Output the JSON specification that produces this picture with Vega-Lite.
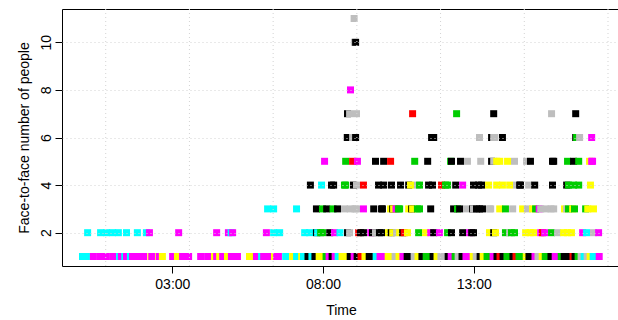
{
 "$schema": "https://vega.github.io/schema/vega-lite/v6.json",
 "width": 558,
 "height": 257,
 "autosize": {"type": "none"},
 "padding": {"left": 62, "top": 9, "right": -2, "bottom": 54},
 "background": "white",
 "config": {
  "font": "Liberation Sans",
  "view": {"stroke": "black", "strokeWidth": 1},
  "axis": {"labelFont": "Liberation Sans", "titleFont": "Liberation Sans", "labelFontSize": 14, "titleFontSize": 14, "titleFontWeight": "normal", "labelColor": "black", "titleColor": "black", "tickColor": "black", "domain": false}
 },
 "datasets": {
  "pts": [
   {"t":0.02,"n":1,"g":"A"},{"t":0.15,"n":1,"g":"A"},{"t":0.38,"n":1,"g":"B"},{"t":0.60,"n":1,"g":"B"},{"t":0.80,"n":1,"g":"B"},{"t":1.02,"n":1,"g":"B"},{"t":1.25,"n":1,"g":"A"},{"t":1.31,"n":1,"g":"B"},{"t":1.42,"n":1,"g":"A"},{"t":1.48,"n":1,"g":"B"},{"t":1.61,"n":1,"g":"A"},{"t":1.68,"n":1,"g":"B"},{"t":1.88,"n":1,"g":"B"},{"t":2.05,"n":1,"g":"B"},{"t":2.29,"n":1,"g":"C"},{"t":2.32,"n":1,"g":"B"},{"t":2.55,"n":1,"g":"C"},{"t":2.57,"n":1,"g":"B"},{"t":2.67,"n":1,"g":"C"},{"t":3.01,"n":1,"g":"B"},{"t":3.17,"n":1,"g":"C"},{"t":3.34,"n":1,"g":"B"},{"t":3.54,"n":1,"g":"B"},{"t":3.94,"n":1,"g":"B"},{"t":4.17,"n":1,"g":"B"},{"t":4.40,"n":1,"g":"C"},{"t":4.47,"n":1,"g":"B"},{"t":4.57,"n":1,"g":"C"},{"t":4.67,"n":1,"g":"B"},{"t":4.83,"n":1,"g":"C"},{"t":4.96,"n":1,"g":"B"},{"t":5.16,"n":1,"g":"B"},{"t":5.56,"n":1,"g":"C"},{"t":5.79,"n":1,"g":"B"},{"t":5.96,"n":1,"g":"A"},{"t":6.03,"n":1,"g":"B"},{"t":6.16,"n":1,"g":"B"},{"t":6.39,"n":1,"g":"C"},{"t":6.46,"n":1,"g":"B"},{"t":6.52,"n":1,"g":"B"},{"t":6.76,"n":1,"g":"A"},{"t":6.99,"n":1,"g":"C"},{"t":7.12,"n":1,"g":"A"},{"t":7.29,"n":1,"g":"C"},{"t":7.35,"n":1,"g":"A"},{"t":7.50,"n":1,"g":"D"},{"t":7.63,"n":1,"g":"A"},{"t":7.73,"n":1,"g":"D"},{"t":7.87,"n":1,"g":"C"},{"t":8.00,"n":1,"g":"C"},{"t":8.10,"n":1,"g":"E"},{"t":8.20,"n":1,"g":"B"},{"t":8.30,"n":1,"g":"D"},{"t":8.40,"n":1,"g":"B"},{"t":8.50,"n":1,"g":"A"},{"t":8.63,"n":1,"g":"C"},{"t":8.76,"n":1,"g":"C"},{"t":8.90,"n":1,"g":"D"},{"t":9.03,"n":1,"g":"B"},{"t":9.13,"n":1,"g":"D"},{"t":9.26,"n":1,"g":"F"},{"t":9.39,"n":1,"g":"C"},{"t":9.53,"n":1,"g":"D"},{"t":9.63,"n":1,"g":"D"},{"t":9.76,"n":1,"g":"A"},{"t":9.89,"n":1,"g":"B"},{"t":10.02,"n":1,"g":"B"},{"t":10.16,"n":1,"g":"C"},{"t":10.26,"n":1,"g":"C"},{"t":10.39,"n":1,"g":"G"},{"t":10.52,"n":1,"g":"C"},{"t":10.65,"n":1,"g":"B"},{"t":10.79,"n":1,"g":"D"},{"t":10.92,"n":1,"g":"D"},{"t":11.02,"n":1,"g":"G"},{"t":11.15,"n":1,"g":"C"},{"t":11.28,"n":1,"g":"D"},{"t":11.42,"n":1,"g":"E"},{"t":11.52,"n":1,"g":"E"},{"t":11.65,"n":1,"g":"D"},{"t":11.78,"n":1,"g":"C"},{"t":11.91,"n":1,"g":"G"},{"t":12.01,"n":1,"g":"G"},{"t":12.15,"n":1,"g":"D"},{"t":12.25,"n":1,"g":"B"},{"t":12.38,"n":1,"g":"E"},{"t":12.48,"n":1,"g":"G"},{"t":12.61,"n":1,"g":"D"},{"t":12.74,"n":1,"g":"B"},{"t":12.84,"n":1,"g":"B"},{"t":12.98,"n":1,"g":"C"},{"t":13.08,"n":1,"g":"G"},{"t":13.21,"n":1,"g":"D"},{"t":13.31,"n":1,"g":"C"},{"t":13.44,"n":1,"g":"E"},{"t":13.54,"n":1,"g":"E"},{"t":13.64,"n":1,"g":"B"},{"t":13.77,"n":1,"g":"D"},{"t":13.87,"n":1,"g":"F"},{"t":13.97,"n":1,"g":"D"},{"t":14.10,"n":1,"g":"E"},{"t":14.20,"n":1,"g":"E"},{"t":14.30,"n":1,"g":"D"},{"t":14.40,"n":1,"g":"F"},{"t":14.50,"n":1,"g":"E"},{"t":14.60,"n":1,"g":"E"},{"t":14.74,"n":1,"g":"C"},{"t":14.83,"n":1,"g":"D"},{"t":14.93,"n":1,"g":"D"},{"t":15.03,"n":1,"g":"B"},{"t":15.13,"n":1,"g":"G"},{"t":15.27,"n":1,"g":"C"},{"t":15.37,"n":1,"g":"E"},{"t":15.47,"n":1,"g":"E"},{"t":15.56,"n":1,"g":"D"},{"t":15.70,"n":1,"g":"B"},{"t":15.80,"n":1,"g":"B"},{"t":15.90,"n":1,"g":"E"},{"t":16.00,"n":1,"g":"D"},{"t":16.10,"n":1,"g":"D"},{"t":16.20,"n":1,"g":"D"},{"t":16.29,"n":1,"g":"F"},{"t":16.36,"n":1,"g":"D"},{"t":16.46,"n":1,"g":"E"},{"t":16.56,"n":1,"g":"G"},{"t":16.66,"n":1,"g":"A"},{"t":16.76,"n":1,"g":"G"},{"t":16.86,"n":1,"g":"C"},{"t":16.96,"n":1,"g":"A"},{"t":17.06,"n":1,"g":"A"},{"t":17.16,"n":1,"g":"B"},
   {"t":0.19,"n":2,"g":"A"},{"t":0.62,"n":2,"g":"A"},{"t":0.82,"n":2,"g":"A"},{"t":1.02,"n":2,"g":"A"},{"t":1.21,"n":2,"g":"A"},{"t":1.48,"n":2,"g":"A"},{"t":1.84,"n":2,"g":"A"},{"t":2.14,"n":2,"g":"A"},{"t":2.24,"n":2,"g":"B"},{"t":3.21,"n":2,"g":"B"},{"t":4.47,"n":2,"g":"B"},{"t":4.86,"n":2,"g":"B"},{"t":4.95,"n":2,"g":"A"},{"t":5.00,"n":2,"g":"B"},{"t":6.12,"n":2,"g":"B"},{"t":6.36,"n":2,"g":"A"},{"t":6.56,"n":2,"g":"A"},{"t":7.39,"n":2,"g":"A"},{"t":7.55,"n":2,"g":"A"},{"t":7.78,"n":2,"g":"D"},{"t":7.82,"n":2,"g":"A"},{"t":7.92,"n":2,"g":"E"},{"t":7.98,"n":2,"g":"E"},{"t":8.22,"n":2,"g":"D"},{"t":8.38,"n":2,"g":"B"},{"t":8.56,"n":2,"g":"A"},{"t":8.81,"n":2,"g":"D"},{"t":8.88,"n":2,"g":"G"},{"t":9.18,"n":2,"g":"F"},{"t":9.24,"n":2,"g":"D"},{"t":9.34,"n":2,"g":"D"},{"t":9.58,"n":2,"g":"B"},{"t":9.64,"n":2,"g":"D"},{"t":9.74,"n":2,"g":"G"},{"t":9.87,"n":2,"g":"D"},{"t":9.94,"n":2,"g":"D"},{"t":10.17,"n":2,"g":"C"},{"t":10.26,"n":2,"g":"D"},{"t":10.31,"n":2,"g":"C"},{"t":10.44,"n":2,"g":"G"},{"t":10.54,"n":2,"g":"C"},{"t":10.64,"n":2,"g":"D"},{"t":10.69,"n":2,"g":"F"},{"t":10.80,"n":2,"g":"C"},{"t":11.17,"n":2,"g":"E"},{"t":11.40,"n":2,"g":"C"},{"t":11.57,"n":2,"g":"B"},{"t":11.67,"n":2,"g":"D"},{"t":11.86,"n":2,"g":"B"},{"t":12.13,"n":2,"g":"E"},{"t":12.26,"n":2,"g":"D"},{"t":12.63,"n":2,"g":"D"},{"t":12.86,"n":2,"g":"B"},{"t":12.93,"n":2,"g":"D"},{"t":12.99,"n":2,"g":"D"},{"t":13.52,"n":2,"g":"C"},{"t":13.66,"n":2,"g":"D"},{"t":13.72,"n":2,"g":"C"},{"t":14.05,"n":2,"g":"E"},{"t":14.19,"n":2,"g":"G"},{"t":14.25,"n":2,"g":"E"},{"t":14.35,"n":2,"g":"E"},{"t":14.72,"n":2,"g":"C"},{"t":14.87,"n":2,"g":"C"},{"t":14.98,"n":2,"g":"C"},{"t":15.22,"n":2,"g":"B"},{"t":15.28,"n":2,"g":"F"},{"t":15.35,"n":2,"g":"B"},{"t":15.58,"n":2,"g":"E"},{"t":15.78,"n":2,"g":"G"},{"t":15.98,"n":2,"g":"C"},{"t":16.11,"n":2,"g":"C"},{"t":16.24,"n":2,"g":"C"},{"t":16.61,"n":2,"g":"B"},{"t":16.74,"n":2,"g":"A"},{"t":16.97,"n":2,"g":"G"},{"t":17.14,"n":2,"g":"B"},
   {"t":6.16,"n":3,"g":"A"},{"t":6.36,"n":3,"g":"A"},{"t":7.12,"n":3,"g":"A"},{"t":7.78,"n":3,"g":"D"},{"t":7.98,"n":3,"g":"E"},{"t":8.12,"n":3,"g":"D"},{"t":8.33,"n":3,"g":"E"},{"t":8.48,"n":3,"g":"D"},{"t":8.71,"n":3,"g":"G"},{"t":8.90,"n":3,"g":"G"},{"t":9.06,"n":3,"g":"G"},{"t":9.11,"n":3,"g":"G"},{"t":9.34,"n":3,"g":"B"},{"t":9.68,"n":3,"g":"D"},{"t":9.94,"n":3,"g":"D"},{"t":9.97,"n":3,"g":"D"},{"t":10.24,"n":3,"g":"C"},{"t":10.31,"n":3,"g":"D"},{"t":10.34,"n":3,"g":"C"},{"t":10.42,"n":3,"g":"B"},{"t":10.50,"n":3,"g":"E"},{"t":10.54,"n":3,"g":"E"},{"t":10.84,"n":3,"g":"C"},{"t":10.94,"n":3,"g":"D"},{"t":10.97,"n":3,"g":"C"},{"t":11.13,"n":3,"g":"E"},{"t":11.20,"n":3,"g":"E"},{"t":11.57,"n":3,"g":"D"},{"t":12.33,"n":3,"g":"D"},{"t":12.46,"n":3,"g":"E"},{"t":12.53,"n":3,"g":"D"},{"t":12.76,"n":3,"g":"G"},{"t":12.96,"n":3,"g":"D"},{"t":12.99,"n":3,"g":"G"},{"t":13.09,"n":3,"g":"D"},{"t":13.19,"n":3,"g":"D"},{"t":13.29,"n":3,"g":"D"},{"t":13.52,"n":3,"g":"G"},{"t":13.56,"n":3,"g":"G"},{"t":13.86,"n":3,"g":"C"},{"t":14.05,"n":3,"g":"E"},{"t":14.29,"n":3,"g":"G"},{"t":14.62,"n":3,"g":"C"},{"t":14.78,"n":3,"g":"G"},{"t":14.95,"n":3,"g":"C"},{"t":15.05,"n":3,"g":"E"},{"t":15.17,"n":3,"g":"B"},{"t":15.22,"n":3,"g":"G"},{"t":15.40,"n":3,"g":"G"},{"t":15.56,"n":3,"g":"G"},{"t":15.65,"n":3,"g":"G"},{"t":16.01,"n":3,"g":"C"},{"t":16.08,"n":3,"g":"G"},{"t":16.14,"n":3,"g":"E"},{"t":16.28,"n":3,"g":"C"},{"t":16.34,"n":3,"g":"E"},{"t":16.71,"n":3,"g":"E"},{"t":16.78,"n":3,"g":"C"},{"t":16.97,"n":3,"g":"C"},
   {"t":7.58,"n":4,"g":"D"},{"t":7.95,"n":4,"g":"A"},{"t":8.28,"n":4,"g":"D"},{"t":8.35,"n":4,"g":"D"},{"t":8.71,"n":4,"g":"E"},{"t":8.75,"n":4,"g":"E"},{"t":9.01,"n":4,"g":"D"},{"t":9.11,"n":4,"g":"G"},{"t":9.34,"n":4,"g":"F"},{"t":9.84,"n":4,"g":"D"},{"t":10.01,"n":4,"g":"D"},{"t":10.27,"n":4,"g":"D"},{"t":10.57,"n":4,"g":"D"},{"t":10.84,"n":4,"g":"D"},{"t":10.90,"n":4,"g":"C"},{"t":11.13,"n":4,"g":"G"},{"t":11.20,"n":4,"g":"E"},{"t":11.50,"n":4,"g":"D"},{"t":11.63,"n":4,"g":"D"},{"t":11.93,"n":4,"g":"F"},{"t":12.06,"n":4,"g":"E"},{"t":12.13,"n":4,"g":"E"},{"t":12.40,"n":4,"g":"D"},{"t":12.63,"n":4,"g":"B"},{"t":12.99,"n":4,"g":"D"},{"t":13.16,"n":4,"g":"D"},{"t":13.26,"n":4,"g":"D"},{"t":13.49,"n":4,"g":"C"},{"t":13.76,"n":4,"g":"C"},{"t":13.95,"n":4,"g":"C"},{"t":14.19,"n":4,"g":"C"},{"t":14.42,"n":4,"g":"G"},{"t":14.52,"n":4,"g":"D"},{"t":14.55,"n":4,"g":"D"},{"t":14.82,"n":4,"g":"G"},{"t":15.02,"n":4,"g":"D"},{"t":15.61,"n":4,"g":"D"},{"t":16.08,"n":4,"g":"D"},{"t":16.14,"n":4,"g":"E"},{"t":16.31,"n":4,"g":"E"},{"t":16.48,"n":4,"g":"E"},{"t":16.87,"n":4,"g":"C"},
   {"t":8.05,"n":5,"g":"B"},{"t":8.75,"n":5,"g":"E"},{"t":8.98,"n":5,"g":"F"},{"t":9.14,"n":5,"g":"B"},{"t":9.74,"n":5,"g":"D"},{"t":10.01,"n":5,"g":"D"},{"t":10.24,"n":5,"g":"F"},{"t":11.04,"n":5,"g":"E"},{"t":11.47,"n":5,"g":"D"},{"t":12.23,"n":5,"g":"E"},{"t":12.26,"n":5,"g":"D"},{"t":12.56,"n":5,"g":"D"},{"t":12.79,"n":5,"g":"G"},{"t":13.23,"n":5,"g":"G"},{"t":13.59,"n":5,"g":"D"},{"t":13.66,"n":5,"g":"G"},{"t":13.76,"n":5,"g":"C"},{"t":13.86,"n":5,"g":"C"},{"t":14.12,"n":5,"g":"C"},{"t":14.35,"n":5,"g":"G"},{"t":14.75,"n":5,"g":"G"},{"t":14.88,"n":5,"g":"D"},{"t":15.61,"n":5,"g":"D"},{"t":15.65,"n":5,"g":"D"},{"t":16.11,"n":5,"g":"E"},{"t":16.31,"n":5,"g":"D"},{"t":16.48,"n":5,"g":"E"},{"t":16.84,"n":5,"g":"C"},{"t":16.91,"n":5,"g":"B"},{"t":16.94,"n":5,"g":"B"},
   {"t":8.78,"n":6,"g":"G"},{"t":8.81,"n":6,"g":"D"},{"t":8.98,"n":6,"g":"G"},{"t":9.08,"n":6,"g":"D"},{"t":11.60,"n":6,"g":"D"},{"t":11.67,"n":6,"g":"D"},{"t":13.19,"n":6,"g":"G"},{"t":13.59,"n":6,"g":"D"},{"t":13.66,"n":6,"g":"G"},{"t":13.69,"n":6,"g":"G"},{"t":13.95,"n":6,"g":"D"},{"t":16.38,"n":6,"g":"D"},{"t":16.41,"n":6,"g":"E"},{"t":16.51,"n":6,"g":"G"},{"t":16.91,"n":6,"g":"B"},
   {"t":8.81,"n":7,"g":"D"},{"t":8.88,"n":7,"g":"G"},{"t":9.11,"n":7,"g":"G"},{"t":10.97,"n":7,"g":"F"},{"t":12.43,"n":7,"g":"E"},{"t":13.66,"n":7,"g":"D"},{"t":15.58,"n":7,"g":"G"},{"t":16.38,"n":7,"g":"D"},
   {"t":8.91,"n":8,"g":"B"},
   {"t":9.04,"n":10,"g":"G"},{"t":9.08,"n":10,"g":"D"},
   {"t":9.03,"n":11,"g":"G"}
  ],
  "vgrid": [{"t":0.79},{"t":3.567},{"t":6.344},{"t":9.121},{"t":11.898},{"t":14.675},{"t":17.452}]
 },
 "layer": [
  {
   "data": {"name": "pts"},
   "mark": {"type": "square", "size": 49, "opacity": 1, "strokeWidth": 0},
   "encoding": {
    "x": {"field": "t", "type": "quantitative",
     "scale": {"domain": [-0.66, 17.85], "nice": false, "zero": false},
     "axis": {"title": "Time", "values": [3, 8, 13], "labelExpr": "(datum.value < 10 ? '0' : '') + datum.value + ':00'", "grid": false, "tickSize": 7, "labelPadding": 4, "titlePadding": 12, "labelFlush": false}},
    "y": {"field": "n", "type": "quantitative",
     "scale": {"domain": [0.6, 11.4], "nice": false, "zero": false},
     "axis": {"title": "Face-to-face number of people", "values": [2, 4, 6, 8, 10], "grid": true, "gridColor": "#D3D3D3", "gridDash": [1, 3], "gridWidth": 1, "tickSize": 7, "labelAngle": -90, "labelAlign": "center", "labelBaseline": "bottom", "labelPadding": 2, "labelOverlap": false, "titlePadding": 8, "zindex": 1}},
    "color": {"field": "g", "type": "nominal",
     "scale": {"domain": ["A", "B", "C", "D", "E", "F", "G"], "range": ["#00FFFF", "#FF00FF", "#FFFF00", "#000000", "#00CD00", "#FF0000", "#BEBEBE"]},
     "legend": null}
   }
  },
  {
   "data": {"name": "vgrid"},
   "mark": {"type": "rule", "color": "#D3D3D3", "strokeDash": [1, 3], "strokeWidth": 1},
   "encoding": {"x": {"field": "t", "type": "quantitative"}}
  }
 ]
}
